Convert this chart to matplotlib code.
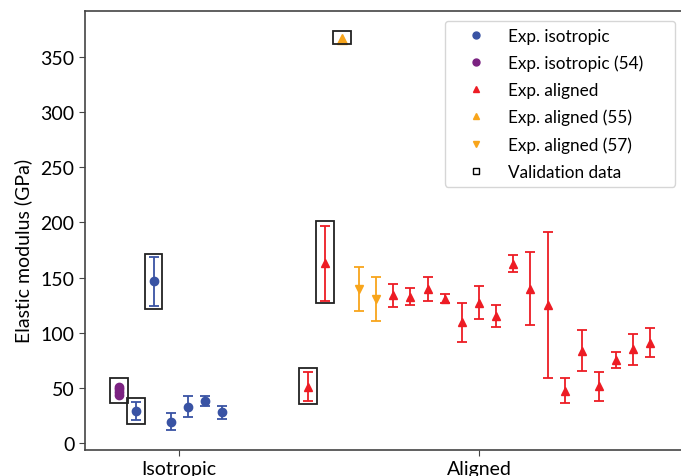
import numpy as np
import matplotlib
matplotlib.use("Agg")
import matplotlib.pyplot as plt
from matplotlib.patches import Rectangle
from matplotlib.lines import Line2D

plt.rcParams['font.family'] = ['Lato', 'DejaVu Sans']

blue = "#3953a4"
purple = "#7b2281"
red = "#ed1c24"
orange = "#f8a51b"

# isotropic experiments
iso_x = [1, 2, 3, 4, 5, 6]
iso_y = [29, 146.5, 19.5, 33, 38.4, 28]
iso_err = [8.5, 22, 8, 9.5, 4.5, 6]

# isotropic (54): several overlapping points
iso54_x = [0, 0, 0, 0]
iso54_y = [44, 46.5, 49, 51]

# aligned experiments
al_x = [11, 12, 16, 17, 18, 19, 20, 21, 22, 23, 24, 25, 26, 27, 28, 29, 30, 31]
al_y = [51, 163, 134, 132.5, 140, 131, 109.5, 127.4, 115, 162.8, 140, 125, 47.6, 83.7, 51.4, 75, 85, 91]
al_err = [13, 34, 10.5, 7.7, 11, 3.8, 17.5, 15, 10, 8, 33, 66, 11, 18.7, 13.3, 7.3, 14, 13.3]

# aligned (55)
al55_x = [13]
al55_y = [366.5]

# aligned (57)
al57_x = [14, 15]
al57_y = [140, 130.5]
al57_err = [20, 20]

# validation boxes: (x, low, high)
val_x = [0, 1, 2, 11, 12, 13]
val_lo = [36, 17.2, 121.2, 35.4, 126.7, 361.6]
val_hi = [58.6, 40.5, 171.7, 67.7, 201.3, 373.4]

group_pos = [3.5, 21]
group_names = ["Isotropic", "Aligned"]

fig = plt.figure(figsize=(6.81, 4.77), dpi=100)
W, H = 681, 477
x0, x1 = 85, 684.6
y_top, y_bot = 12.3, 451
ax = fig.add_axes([x0 / W, 1 - y_bot / H, (x1 - x0) / W, (y_bot - y_top) / H])

ekw = dict(ls="none", elinewidth=1.3, capsize=3.5, capthick=1.3, markersize=6)
ax.errorbar(iso_x, iso_y, yerr=iso_err, fmt="o", color=blue, **ekw)
ax.plot(iso54_x, iso54_y, "o", color=purple, markersize=6, ls="none")
ax.errorbar(al_x, al_y, yerr=al_err, fmt="^", color=red, **ekw)
ax.plot(al55_x, al55_y, "^", color=orange, markersize=6.5, ls="none")
ax.errorbar(al57_x, al57_y, yerr=al57_err, fmt="v", color=orange, **ekw)

for xv, lo, hi in zip(val_x, val_lo, val_hi):
    ax.add_patch(Rectangle((xv - 0.52, lo), 1.04, hi - lo, fill=False,
                           edgecolor="#222222", lw=1.3, zorder=3))

ax.set_xlim(-2, 33)
ax.set_ylim(-6.3, 391.5)
ax.set_yticks(np.arange(0, 351, 50))
ax.set_xticks(group_pos)
ax.set_xticklabels(group_names)
ax.tick_params(labelsize=14, length=4, color="#444444")
ax.set_ylabel("Elastic modulus (GPa)", fontsize=14)
ax.yaxis.set_label_coords(-0.088, 0.455)
for s in ["left", "bottom", "top"]:
    ax.spines[s].set_color("#444444")
    ax.spines[s].set_linewidth(1.2)
ax.spines["right"].set_visible(False)

handles = [
    Line2D([], [], marker="o", color=blue, ls="none", markersize=5),
    Line2D([], [], marker="o", color=purple, ls="none", markersize=5),
    Line2D([], [], marker="^", color=red, ls="none", markersize=5),
    Line2D([], [], marker="^", color=orange, ls="none", markersize=5),
    Line2D([], [], marker="v", color=orange, ls="none", markersize=5),
    Line2D([], [], marker="s", color="black", markerfacecolor="none", ls="none", markersize=5, markeredgewidth=1),
]
labels = ["Exp. isotropic", "Exp. isotropic (54)", "Exp. aligned",
          "Exp. aligned (55)", "Exp. aligned (57)", "Validation data"]
leg = fig.legend(handles, labels, loc="upper left",
                 bbox_to_anchor=(445 / W, 1 - 185.7 / H, 230 / W, 164 / H), mode="expand",
                 borderaxespad=0, fontsize=12.3, labelspacing=0.64, handletextpad=0.5,
                 borderpad=0.4, handlelength=2.8, frameon=True, fancybox=True)
leg.get_frame().set_edgecolor("#cccccc")

fig.savefig("out.png", dpi=100)
